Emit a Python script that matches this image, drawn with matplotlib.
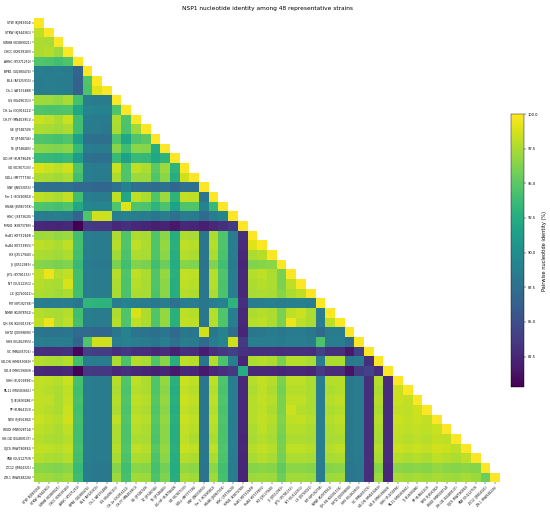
import numpy as np
import matplotlib
matplotlib.use('Agg')
import matplotlib.pyplot as plt

strains = [
    'STW (KJ949104)', 'STKW (KJ944361)', 'SWHB (KC889021)', 'CHCC (KX039183)',
    'AHNC (KY371250)', 'BPB1 (GQ380474)', 'BL4 (AF325915)', 'Ch-1 (AF155488)',
    'GS (KU496151)', 'CH-1a (GQ916121)', 'CH-YY (MN403951)', 'SE (JF748749)',
    'TZ (JF748744)', 'TS (JF748483)', 'GD-HF (KU879649)', 'SD (KC907133)',
    'SDLL (MF777736)', 'SNF (JN033055)', 'Fer 1 (KC690802)', 'HNSB (JN967078)',
    'HNC (JX473620)', 'MRN1 (KY873789)', 'HuB1 (KF731949)', 'HuB4 (KY373955)',
    'HX (JX517940)', 'JS (JX512949)', 'JHTL (KY781153)', 'NT (GU112351)',
    'LX (JQ740021)', 'MT (KP192738)', 'NMW (KU978762)', 'QH-SN (KU301578)',
    'SHTZ (JX099890)', 'SHS (EU262955)', 'SC (MN435706)', 'SD-DN (HM459069)',
    'SD-8 (MH539069)', 'SHH (EU106896)', 'TA-11 (MG583661)', 'TJ (EU693286)',
    'TP (KU864153)', 'TWU (FJ456382)', 'WUDI (MW328714)', 'XH-GD (EU489137)',
    'XJCS (MW790892)', 'YNB (GU112759)', 'ZC12 (JF804321)', 'ZR-1 (MW638226)',
]

# lower triangle, row i holds identity (%) with strains 0..i-1
identity_rows = [
    [],
    [98.0],
    [97.6, 97.4],
    [97.6, 97.8, 97.0],
    [94.6, 94.4, 94.0, 94.6],
    [88.6, 88.4, 88.6, 88.4, 86.6],
    [88.4, 88.6, 88.4, 88.4, 86.4, 94.6],
    [88.4, 88.4, 88.6, 88.4, 86.4, 94.4, 99.0],
    [97.2, 97.0, 96.8, 97.4, 94.2, 88.6, 88.4, 88.4],
    [94.6, 94.4, 94.4, 94.6, 92.0, 89.2, 89.0, 89.0, 94.6],
    [98.4, 98.0, 97.6, 98.4, 94.0, 88.6, 88.4, 88.4, 97.6, 94.6],
    [97.6, 97.4, 97.2, 97.6, 94.0, 88.4, 88.4, 88.2, 97.4, 94.4, 97.0],
    [94.6, 94.4, 94.2, 94.6, 91.6, 87.6, 87.4, 87.4, 94.6, 92.0, 94.6, 95.0],
    [96.6, 96.4, 96.2, 96.6, 93.6, 88.6, 88.4, 88.4, 96.4, 94.0, 96.6, 96.4, 92.4],
    [93.6, 93.4, 93.2, 93.6, 91.0, 87.6, 87.4, 87.4, 93.6, 91.6, 93.6, 93.4, 92.0, 93.0],
    [98.8, 98.4, 98.0, 98.6, 94.6, 88.6, 88.4, 88.4, 98.4, 94.6, 98.0, 97.6, 95.0, 97.0, 93.0],
    [97.6, 97.4, 97.2, 97.6, 94.0, 88.6, 88.4, 88.4, 97.6, 94.6, 97.0, 97.0, 94.6, 96.6, 92.6, 98.6],
    [87.6, 87.4, 87.4, 87.6, 87.0, 87.0, 86.8, 86.8, 87.6, 89.0, 87.6, 87.4, 87.2, 87.6, 86.8, 87.6,
     87.6],
    [98.0, 97.8, 97.6, 98.2, 94.0, 88.6, 88.4, 88.4, 98.0, 92.0, 98.0, 97.6, 94.6, 97.0, 93.0, 98.2,
     98.0, 88.0],
    [94.6, 94.4, 94.2, 94.6, 92.0, 89.4, 89.2, 89.2, 94.6, 99.0, 94.6, 94.4, 93.0, 94.4, 91.6, 94.6,
     94.6, 89.0, 93.6],
    [88.6, 88.4, 88.6, 88.4, 86.6, 94.6, 98.6, 98.4, 88.6, 89.0, 88.6, 88.4, 88.0, 88.6, 87.6, 88.6,
     88.4, 87.0, 88.6, 89.2],
    [82.6, 82.4, 82.4, 82.6, 80.3, 83.6, 83.4, 83.4, 82.6, 83.0, 82.6, 82.4, 82.0, 82.2, 81.6, 82.6,
     82.4, 82.0, 82.6, 83.0, 83.6],
    [97.0, 97.2, 96.8, 97.0, 94.0, 88.6, 88.4, 88.4, 97.6, 94.6, 97.6, 97.4, 94.6, 96.6, 92.6, 97.6,
     97.4, 88.0, 97.6, 94.6, 88.6, 83.0],
    [98.0, 97.8, 97.6, 98.0, 94.2, 88.6, 88.4, 88.4, 97.8, 94.6, 98.0, 97.6, 94.6, 96.8, 92.8, 98.0,
     97.8, 88.0, 97.8, 94.6, 88.6, 82.8, 99.0],
    [97.6, 97.4, 97.2, 97.6, 94.0, 88.6, 88.4, 88.4, 97.2, 94.4, 97.6, 97.4, 94.6, 96.6, 92.6, 97.8,
     97.6, 88.0, 97.6, 94.4, 88.6, 82.6, 97.6, 97.8],
    [96.4, 96.2, 96.0, 96.2, 93.6, 88.4, 88.2, 88.2, 96.0, 94.0, 96.2, 96.0, 94.0, 95.6, 92.4, 96.4,
     96.2, 87.8, 96.2, 94.0, 88.4, 82.4, 96.2, 96.4, 96.6],
    [98.0, 99.4, 97.8, 98.2, 94.0, 88.6, 88.4, 88.4, 97.8, 94.6, 98.0, 97.6, 94.6, 96.8, 92.8, 98.2,
     98.0, 88.0, 97.8, 94.6, 88.6, 82.6, 97.8, 98.0, 97.6, 96.0],
    [97.8, 97.6, 97.4, 98.8, 94.0, 88.6, 88.4, 88.4, 97.6, 94.4, 97.8, 97.4, 94.6, 96.6, 92.6, 98.0,
     97.8, 88.0, 97.8, 94.4, 88.6, 82.6, 97.6, 97.8, 97.6, 96.0, 98.0],
    [97.6, 97.4, 97.2, 97.6, 94.0, 88.6, 88.4, 88.4, 97.4, 94.4, 97.6, 97.4, 94.4, 96.6, 92.6, 97.8,
     97.6, 88.0, 97.6, 94.4, 88.6, 82.6, 97.4, 97.6, 97.4, 96.4, 97.6, 98.0],
    [88.6, 88.4, 88.4, 88.6, 88.0, 93.2, 93.0, 93.0, 88.6, 89.0, 88.6, 88.4, 88.2, 88.6, 87.6, 88.6,
     88.6, 88.0, 88.6, 89.0, 93.0, 83.0, 88.6, 88.6, 88.8, 88.6, 88.8, 88.8, 88.6],
    [97.8, 97.6, 97.4, 97.8, 94.0, 88.6, 88.4, 88.4, 97.6, 94.6, 98.8, 97.6, 94.6, 96.8, 92.8, 98.0,
     97.8, 88.0, 97.8, 94.6, 88.6, 82.6, 97.6, 97.8, 97.6, 96.0, 98.0, 98.4, 97.6, 88.6],
    [98.0, 99.4, 97.6, 98.0, 94.2, 88.6, 88.4, 88.4, 97.8, 94.6, 98.0, 97.6, 94.6, 96.8, 92.8, 98.2,
     98.0, 88.0, 97.8, 94.6, 88.6, 82.6, 97.8, 98.0, 97.6, 96.0, 99.4, 98.0, 97.6, 88.6, 98.0],
    [88.0, 87.8, 87.8, 88.0, 87.0, 87.0, 86.8, 86.8, 88.0, 89.0, 88.0, 87.8, 87.4, 88.0, 87.0, 88.2,
     88.0, 98.6, 88.0, 89.0, 87.4, 82.4, 88.0, 88.2, 88.4, 88.2, 88.4, 88.4, 88.2, 87.0, 88.4, 88.4],
    [88.6, 88.4, 88.6, 88.4, 86.6, 94.6, 98.6, 98.6, 88.6, 89.0, 88.6, 88.4, 88.0, 88.6, 87.6, 88.6,
     88.4, 87.0, 88.6, 89.2, 98.6, 83.6, 88.6, 88.6, 88.6, 88.4, 88.6, 88.6, 88.4, 94.4, 88.6, 88.6,
     87.4],
    [83.0, 82.8, 82.8, 83.0, 80.6, 84.0, 83.8, 83.8, 83.0, 83.4, 83.0, 82.8, 82.4, 82.8, 82.0, 83.0,
     82.8, 81.8, 83.0, 83.4, 84.0, 83.2, 83.0, 83.0, 83.0, 82.8, 83.0, 83.0, 82.8, 84.0, 83.0, 83.0,
     81.6, 84.0],
    [97.8, 97.6, 97.4, 97.8, 94.0, 88.6, 88.4, 88.4, 97.6, 94.4, 97.8, 97.4, 94.6, 96.6, 92.6, 98.0,
     97.8, 88.0, 97.8, 94.4, 88.6, 82.4, 97.6, 97.8, 97.6, 96.0, 97.8, 97.8, 97.4, 88.6, 97.6, 97.6,
     88.2, 88.4, 83.0],
    [82.6, 82.4, 82.4, 82.6, 80.4, 83.6, 83.4, 83.4, 82.6, 83.0, 82.6, 82.4, 82.0, 82.4, 81.6, 82.6,
     82.4, 81.6, 82.6, 83.0, 83.6, 92.6, 82.6, 82.6, 82.6, 82.4, 82.6, 82.6, 82.4, 83.6, 82.8, 82.8,
     81.2, 83.6, 84.2, 82.8],
    [98.2, 98.0, 97.8, 98.4, 94.2, 88.6, 88.4, 88.4, 97.8, 94.6, 98.0, 97.6, 94.6, 96.8, 92.8, 98.4,
     98.0, 88.0, 98.0, 94.6, 88.6, 82.6, 97.8, 98.2, 97.8, 96.0, 98.0, 98.0, 97.6, 88.6, 97.8, 97.8,
     88.2, 88.4, 83.0, 97.8, 82.8],
    [98.0, 97.8, 97.6, 98.0, 94.0, 88.6, 88.4, 88.4, 97.6, 94.4, 97.8, 97.6, 94.6, 96.6, 92.6, 98.2,
     97.8, 88.0, 97.8, 94.4, 88.6, 82.6, 97.6, 98.0, 97.6, 95.8, 97.8, 97.8, 97.6, 88.6, 97.6, 97.8,
     88.2, 88.4, 83.0, 97.6, 82.8, 98.4],
    [98.2, 98.0, 97.6, 98.2, 94.2, 88.6, 88.4, 88.4, 97.8, 94.6, 98.0, 97.8, 94.8, 96.8, 92.8, 98.4,
     98.0, 88.0, 98.0, 94.6, 88.6, 82.6, 97.8, 98.2, 97.8, 96.0, 98.0, 98.0, 97.6, 88.6, 97.8, 98.0,
     88.2, 88.4, 83.0, 97.8, 82.8, 98.4, 98.2],
    [98.0, 97.8, 97.6, 98.4, 94.0, 88.6, 88.4, 88.4, 97.6, 94.4, 97.8, 97.6, 94.6, 96.6, 92.6, 98.2,
     97.8, 88.0, 97.8, 94.4, 88.6, 82.6, 97.8, 98.0, 97.6, 96.0, 98.4, 97.8, 97.6, 88.6, 97.6, 97.8,
     88.2, 88.4, 83.0, 97.6, 82.8, 98.2, 98.0, 98.6],
    [98.4, 98.0, 97.8, 98.6, 94.2, 88.6, 88.4, 88.4, 98.0, 94.6, 98.0, 97.8, 94.8, 96.8, 92.8, 98.4,
     98.0, 88.0, 98.0, 94.6, 88.6, 82.6, 97.8, 98.2, 97.8, 96.2, 98.0, 98.2, 97.8, 88.6, 97.8, 98.0,
     88.2, 88.4, 83.0, 97.8, 82.8, 98.4, 98.2, 98.4, 98.2],
    [98.0, 97.8, 97.6, 98.0, 94.0, 88.6, 88.4, 88.4, 97.6, 94.4, 97.8, 97.6, 94.6, 96.6, 92.6, 98.2,
     97.8, 88.0, 97.8, 94.4, 88.6, 82.6, 97.6, 98.0, 97.6, 96.0, 97.8, 97.8, 97.6, 88.6, 97.6, 97.8,
     88.2, 88.4, 83.0, 97.6, 82.8, 98.2, 98.0, 98.2, 98.0, 98.4],
    [97.8, 97.6, 97.4, 97.8, 94.0, 88.6, 88.4, 88.4, 97.6, 94.4, 97.6, 97.4, 94.4, 96.6, 92.6, 98.0,
     97.6, 88.0, 97.6, 94.4, 88.6, 82.4, 97.4, 97.8, 97.4, 95.8, 97.6, 97.6, 97.4, 88.6, 97.4, 97.6,
     88.2, 88.4, 83.0, 97.4, 82.8, 98.0, 97.8, 98.0, 97.8, 98.2, 98.0],
    [98.2, 98.0, 97.8, 98.2, 94.2, 88.6, 88.4, 88.4, 97.8, 94.6, 98.0, 97.8, 94.8, 96.8, 92.8, 98.4,
     98.0, 88.0, 98.0, 94.6, 88.6, 82.6, 97.8, 98.2, 97.8, 96.0, 98.0, 98.0, 97.8, 88.6, 97.8, 98.0,
     88.2, 88.4, 83.0, 97.8, 82.8, 98.4, 98.2, 98.4, 98.2, 98.6, 98.4, 98.0],
    [97.8, 97.6, 97.4, 97.8, 94.0, 88.6, 88.4, 88.4, 97.4, 94.4, 97.6, 97.4, 94.4, 96.6, 92.6, 97.8,
     97.6, 88.0, 97.6, 94.4, 88.6, 82.4, 97.4, 97.8, 97.4, 95.8, 97.6, 97.6, 97.4, 88.6, 97.4, 97.6,
     88.2, 88.4, 83.0, 97.4, 82.8, 97.8, 97.6, 97.8, 97.6, 98.0, 97.8, 97.6, 98.0],
    [96.6, 96.4, 96.2, 96.6, 93.6, 88.4, 88.2, 88.2, 96.4, 94.0, 96.6, 96.4, 94.2, 95.8, 92.4, 96.8,
     96.6, 87.8, 96.6, 94.0, 88.4, 82.4, 96.4, 96.6, 96.4, 95.2, 96.6, 96.6, 96.4, 88.4, 96.4, 96.6,
     88.0, 88.2, 82.8, 96.4, 82.6, 96.6, 96.4, 96.6, 96.4, 96.8, 96.6, 96.4, 96.6, 96.4],
    [97.2, 97.0, 96.8, 97.2, 93.8, 88.4, 88.2, 88.2, 97.0, 94.2, 97.2, 97.0, 94.4, 96.2, 92.6, 97.4,
     97.2, 87.8, 97.2, 94.2, 88.4, 82.4, 97.0, 97.2, 97.0, 95.6, 97.2, 97.2, 97.0, 88.4, 97.0, 97.2,
     88.0, 88.2, 82.8, 97.0, 82.6, 97.4, 97.2, 97.4, 97.2, 97.4, 97.2, 97.0, 97.4, 97.0, 95.6],
]

n = len(strains)
mat = np.full((n, n), np.nan)
for i, row in enumerate(identity_rows):
    mat[i, :len(row)] = row
    mat[i, i] = 100.0

fig = plt.figure(figsize=(5.5, 5.13), dpi=100)
ax = fig.add_axes([0.062, 0.060, 0.847, 0.905])
cax = fig.add_axes([0.929, 0.2456, 0.024, 0.532])

mesh = ax.pcolormesh(np.ma.masked_invalid(mat), cmap='viridis', vmin=80.3, vmax=100.0)
ax.set_xlim(0, n)
ax.set_ylim(n, 0)
for s in ax.spines.values():
    s.set_visible(False)

ax.set_xticks(np.arange(n) + 0.5)
ax.set_yticks(np.arange(n) + 0.5)
ax.set_xticklabels(strains, rotation=45, ha='right', rotation_mode='anchor', fontsize=2.2)
ax.set_yticklabels(strains, fontsize=2.2)
ax.tick_params(length=1.2, width=0.3, pad=1)

ax.set_title('NSP1 nucleotide identity among 48 representative strains', fontsize=4.2, pad=6)

cb = fig.colorbar(mesh, cax=cax)
cb.set_ticks([82.5, 85.0, 87.5, 90.0, 92.5, 95.0, 97.5, 100.0])
cb.ax.tick_params(labelsize=2.6, length=1.5, width=0.3, pad=1)
cb.outline.set_linewidth(0.3)
cb.set_label('Pairwise nucleotide identity (%)', fontsize=3.6, labelpad=3)

fig.savefig('out.png', dpi=100)
